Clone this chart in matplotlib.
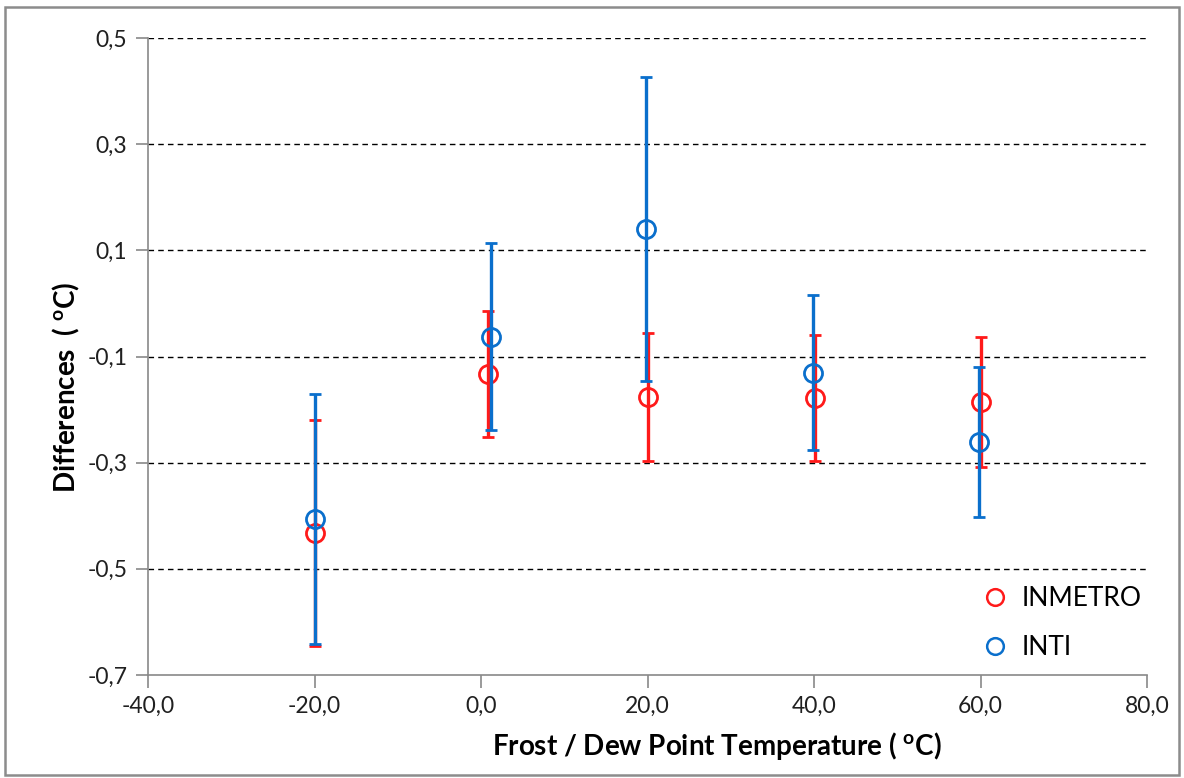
import matplotlib
matplotlib.use("Agg")
import matplotlib.pyplot as plt
from matplotlib.lines import Line2D
from matplotlib.patches import Rectangle
from matplotlib.ticker import FuncFormatter, FixedLocator

plt.rcParams['font.family'] = ['Lato', 'DejaVu Sans']

inmetro_x = [-20.0, 0.8, 20.0, 40.1, 60.0]
inmetro_y = [-0.433, -0.133, -0.176, -0.178, -0.186]
inmetro_err = [0.213, 0.118, 0.120, 0.118, 0.123]

inti_x = [-20.0, 1.2, 19.8, 39.9, 59.8]
inti_y = [-0.406, -0.063, 0.140, -0.131, -0.261]
inti_err = [0.235, 0.176, 0.286, 0.146, 0.141]

x_ticks = [-40, -20, 0, 20, 40, 60, 80]
y_ticks = [-0.7, -0.5, -0.3, -0.1, 0.1, 0.3, 0.5]

red = '#FF1A1A'
blue = '#0A6FCC'

W, H = 1184, 778
fig = plt.figure(figsize=(W/100, H/100), dpi=100)
ax = fig.add_axes([148/W, 1-675/H, (1147-148)/W, (675-38)/H])

ax.errorbar(inmetro_x, inmetro_y, yerr=inmetro_err, fmt='o', ms=13,
            mfc='none', mec=red, mew=2.0, ecolor=red, elinewidth=2.4,
            capsize=4.5, capthick=2.4, zorder=3)
ax.errorbar(inti_x, inti_y, yerr=inti_err, fmt='o', ms=13,
            mfc='none', mec=blue, mew=2.0, ecolor=blue, elinewidth=2.4,
            capsize=4.5, capthick=2.4, zorder=4)

ax.set_xlim(-40, 80)
ax.set_ylim(-0.7, 0.5)
ax.xaxis.set_major_locator(FixedLocator(x_ticks))
ax.yaxis.set_major_locator(FixedLocator(y_ticks))
ax.xaxis.set_major_formatter(FuncFormatter(lambda v, p: f"{v:.1f}".replace('.', ',')))
ax.yaxis.set_major_formatter(FuncFormatter(lambda v, p: f"{v:.1f}".replace('.', ',')))

for yv in y_ticks[1:]:
    ax.axhline(yv, color='black', lw=1.0, ls=(0, (4, 3)), zorder=1)

for s in ['top', 'right']:
    ax.spines[s].set_visible(False)
for s in ['left', 'bottom']:
    ax.spines[s].set_color('#898989')
    ax.spines[s].set_linewidth(1.2)
ax.tick_params(axis='both', direction='out', color='#898989', width=1.2, length=9,
               labelsize=16.5, labelcolor='#202020', pad=6)

fig.text(717/W, 1-746/H, 'Frost / Dew Point Temperature ( $\\mathregular{^{o}}$C)', fontsize=20,
         fontweight='bold', ha='center', va='center')
fig.text(66/W, 1-387/H, 'Differences  ( $\\mathregular{^{o}}$C)', fontsize=20,
         fontweight='bold', ha='center', va='center', rotation=90)

handles = [Line2D([], [], ls='none', marker='o', ms=12, mfc='none', mec=red, mew=1.8),
           Line2D([], [], ls='none', marker='o', ms=12, mfc='none', mec=blue, mew=1.8)]
ax.legend(handles, ['INMETRO', 'INTI'], loc='lower right', frameon=False,
          fontsize=19, handletextpad=0.0, labelspacing=0.9,
          bbox_to_anchor=(1.018, -0.014))

fig.patches.append(Rectangle((5/W, 3/H), 1174/W, 768/H, transform=fig.transFigure,
                             fill=False, edgecolor='#8c8c8c', lw=1.8))

fig.savefig('out.png', dpi=100)
